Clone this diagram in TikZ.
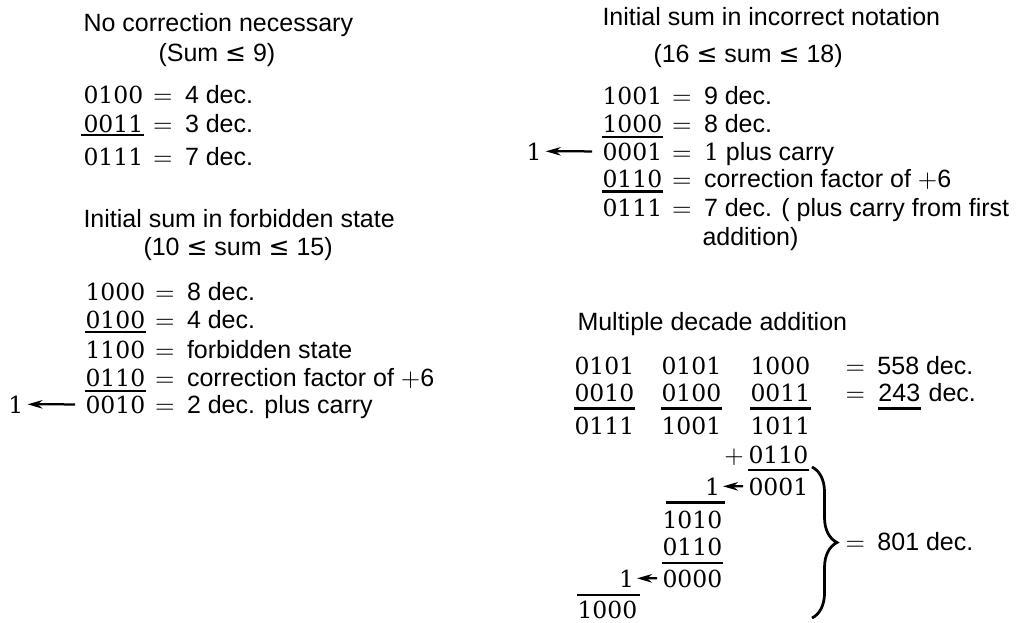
\documentclass[tikz,border=0pt]{standalone}
\usepackage{fontspec}
\setmainfont{Liberation Sans}
\newfontfamily\binfont{DejaVu Serif}
\newfontfamily\symfont{DejaVu Sans}
\usetikzlibrary{positioning,arrows.meta,decorations.pathreplacing}

\begin{document}
\begin{tikzpicture}
   [x=0.4pt,y=-0.4pt,
    txt/.style={inner sep=0pt,anchor=base west,font=\fontsize{10}{12}\selectfont},
    bin/.style={txt,font=\fontsize{9.4}{11}\binfont},
    sumline/.style={line width=0.9pt},
    carry/.style={-{Stealth[length=6pt,width=3.4pt]},line width=0.9pt}]
\useasboundingbox (0,0) rectangle (1018,622);

% no correction
\node [txt] (h1) at (83,31) {No correction necessary};
\node [txt] (h1b) at (158,61) {(Sum {\symfont ≤} 9)};
\node [bin] (ok1) at (83,103) {0100};
\node [txt,base right=3.5pt of ok1] (ok1e) {$=$\enspace 4 dec.};
\node [bin] (ok2) at (83,132) {0011};
\node [txt,base right=3.5pt of ok2] (ok2e) {$=$\enspace 3 dec.};
\node [bin] (ok3) at (83,165) {0111};
\node [txt,base right=3.5pt of ok3] (ok3e) {$=$\enspace 7 dec.};
\draw [sumline] ([xshift=-1pt,yshift=-1.3pt]ok2.base west) -- ([yshift=-1.3pt]ok2.base east);

% forbidden state
\node [txt] (h2) at (83,227) {Initial sum in forbidden state};
\node [txt] (h2b) at (143,255) {(10 {\symfont ≤} sum {\symfont ≤} 15)};
\node [bin] (fb1) at (85,300) {1000};
\node [txt,base right=3.5pt of fb1] (fb1e) {$=$\enspace 8 dec.};
\node [bin] (fb2) at (85,328) {0100};
\node [txt,base right=3.5pt of fb2] (fb2e) {$=$\enspace 4 dec.};
\node [bin] (fb3) at (85,358) {1100};
\node [txt,base right=3.5pt of fb3] (fb3e) {$=$\enspace forbidden state};
\node [bin] (fb4) at (85,386) {0110};
\node [txt,base right=3.5pt of fb4] (fb4e) {$=$\enspace correction factor of $+$6};
\node [bin] (fb5) at (85,413) {0010};
\node [txt,base right=3.5pt of fb5] (fb5e) {$=$\enspace 2 dec. plus carry};
\node [bin,base left=24.5pt of fb5] (fbc) {1};
\draw [sumline] ([yshift=-1.5pt]fb2.base west) -- ([yshift=-1.5pt]fb2.base east);
\draw [sumline] ([yshift=-2pt]fb4.base west) -- ([yshift=-2pt]fb4.base east);
\draw [carry,shorten <=4pt,shorten >=1.5pt] (fb5) -- (fbc);

% incorrect notation
\node [txt] (h3) at (602,25) {Initial sum in incorrect notation};
\node [txt] (h3b) at (653,62) {(16 {\symfont ≤} sum {\symfont ≤} 18)};
\node [bin] (ic1) at (602,104) {1001};
\node [txt,base right=3.5pt of ic1] (ic1e) {$=$\enspace 9 dec.};
\node [bin] (ic2) at (602,132) {1000};
\node [txt,base right=3.5pt of ic2] (ic2e) {$=$\enspace 8 dec.};
\node [bin] (ic3) at (602,160) {0001};
\node [txt,base right=3.5pt of ic3] (ic3e) {$=$\enspace{\binfont\fontsize{9.4}{11}\selectfont 1} plus carry};
\node [bin,base left=24pt of ic3] (icc) {1};
\node [bin] (ic4) at (602,187) {0110};
\node [txt,base right=3.5pt of ic4] (ic4e) {$=$\enspace correction factor of $+$6};
\node [bin] (ic5) at (602,216) {0111};
\node [txt,base right=3.5pt of ic5] (ic5e) {$=$\enspace 7 dec. ( plus carry from first};
\node [txt] (ic6) at (702,245) {addition)};
\draw [sumline] ([yshift=-2pt]ic2.base west) -- ([yshift=-2pt]ic2.base east);
\draw [sumline] ([yshift=-1.8pt]ic4.base west) -- ([yshift=-1.8pt]ic4.base east);
\draw [carry,shorten <=4pt,shorten >=1.5pt] (ic3) -- (icc);

% multiple decade
\node [txt] (h4) at (577,330) {Multiple decade addition};
\node [bin] (a1) at (574,374) {0101};
\node [bin] (b1) at (661,374) {0101};
\node [bin] (c1) at (750,374) {1000};
\node [txt] (s1) at (845,374) {$=$\enspace 558 dec.};
\node [bin] (a2) at (574,401) {0010};
\node [bin] (b2) at (661,401) {0100};
\node [bin] (c2) at (750,401) {0011};
\node [txt] (s2) at (845,401) {$=$\enspace};
\node [txt,base right=0pt of s2] (s2n) {243};
\node [txt,base right=3pt of s2n] (s2d) {dec.};
\node [bin] (a3) at (574,434) {0111};
\node [bin] (b3) at (661,434) {1001};
\node [bin] (c3) at (750,434) {1011};
\node [bin] (c4) at (748,463) {0110};
\node [txt,base left=1.5pt of c4] (pl) {$+$};
\node [bin] (c5) at (748,495) {0001};
\node [bin,base left=11pt of c5] (k1) {1};
\node [bin] (b6) at (662,528) {1010};
\node [bin] (b7) at (662,555) {0110};
\node [bin] (b8) at (662,587) {0000};
\node [bin,base left=11pt of b8] (k2) {1};
\node [bin] (a9) at (577,618) {1000};
\foreach \n in {a2,b2,c2,s2n}
  \draw [sumline] ([yshift=-3pt]\n.base west) -- ([yshift=-3pt]\n.base east);
\draw [sumline] ([yshift=-2.8pt]c4.base west) -- ([yshift=-2.8pt]c4.base east);
\draw [sumline] ([yshift=-3.2pt]b7.base west) -- ([yshift=-3.2pt]b7.base east);
\draw [sumline] ([xshift=1.6pt,yshift=3pt]b6.north west) -- ([xshift=1pt,yshift=3pt]b6.north east);
\draw [sumline] ([yshift=2pt]a9.north west) -- ([xshift=1pt,yshift=2pt]a9.north east);
\draw [carry,shorten <=2pt,shorten >=1pt] (c5) -- (k1);
\draw [carry,shorten <=2pt,shorten >=1pt] (b8) -- (k2);

\coordinate (br1) at (812,467);
\coordinate (br2) at (812,618);
\draw [decorate,decoration={brace,amplitude=10pt},line width=1.1pt] (br1) -- (br2);
\node [txt] (s3) at (845,550) {$=$\enspace 801 dec.};
\end{tikzpicture}
\end{document}
